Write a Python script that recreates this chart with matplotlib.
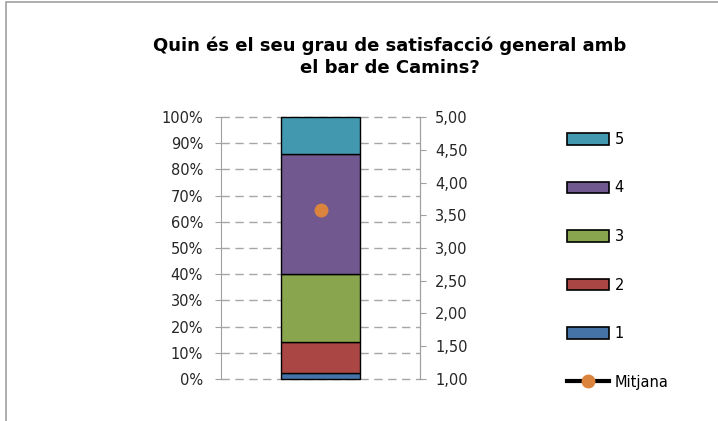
import matplotlib.pyplot as plt
from matplotlib.patches import Patch, Rectangle
from matplotlib.lines import Line2D
from matplotlib.ticker import FuncFormatter

# ==========================================
# Dades
# ==========================================
TITLE = 'Quin és el seu grau de satisfacció general amb\nel bar de Camins?'
levels = ['1', '2', '3', '4', '5']
pct = [2.35, 11.76, 25.88, 45.88, 14.13]        # % de respostes per nivell
colors = ['#4572A7', '#AA4643', '#89A54E', '#71588F', '#4198AF']
mitjana = 3.58
mean_label = 'Mitjana'
mean_color = '#DB843D'

left_ticks = list(range(0, 101, 10))
right_ticks = [1.0, 1.5, 2.0, 2.5, 3.0, 3.5, 4.0, 4.5, 5.0]

# ==========================================
# Figura
# ==========================================
fig = plt.figure(figsize=(7.18, 4.21), dpi=100)
fig.patches.append(Rectangle((0.009, -0.1), 1.2, 1.095, transform=fig.transFigure,
                             fill=False, edgecolor='#a0a0a0', lw=1.2))

ax = fig.add_axes([0.308, 0.100, 0.277, 0.622])
ax.set_axisbelow(True)
bottom = 0
for lv, v, c in zip(levels, pct, colors):
    ax.bar(0.5, v, width=0.4, bottom=bottom, color=c, edgecolor='black', lw=1,
           zorder=3, clip_on=False)
    bottom += v

ax.set_xlim(0, 1)
ax.set_ylim(0, 100)
ax.set_xticks([])
ax.set_yticks(left_ticks)
ax.yaxis.set_major_formatter(FuncFormatter(lambda v, _: f'{v:.0f}%'))
ax.grid(axis='y', color='#a6a6a6', linestyle=(0, (6, 4)), lw=1)
for gl in ax.get_ygridlines():
    gl.set_clip_on(False)
for s in ['top', 'bottom']:
    ax.spines[s].set_visible(False)
ax.spines['left'].set_color('#a0a0a0')
ax.spines['right'].set_color('#a0a0a0')
ax.tick_params(axis='y', colors='#a0a0a0', labelcolor='#262626', length=4,
               labelsize=10.5, pad=9)

ax2 = ax.twinx()
ax2.set_ylim(1, 5)
ax2.set_yticks(right_ticks)
ax2.yaxis.set_major_formatter(FuncFormatter(lambda v, _: f'{v:.2f}'.replace('.', ',')))
ax2.tick_params(axis='y', colors='#a0a0a0', labelcolor='#262626', length=4,
                labelsize=10.5, pad=7)
for s in ['top', 'bottom', 'left']:
    ax2.spines[s].set_visible(False)
ax2.spines['right'].set_color('#a0a0a0')
ax2.plot([0.5], [mitjana], 'o', color=mean_color, ms=9, zorder=5)

fig.text(0.543, 0.865, TITLE, ha='center', va='center', fontsize=13,
         fontweight='bold', linespacing=1.3, color='black')

# ── llegenda: 5 a dalt, 1 a baix, després la mitjana ──
handles = [Patch(facecolor=c, edgecolor='black', lw=1.2) for c in colors][::-1]
labels = levels[::-1]
handles.append(Line2D([0], [0], color='black', lw=3, marker='o', ms=9,
                      markerfacecolor=mean_color, markeredgecolor=mean_color))
labels.append(mean_label)
fig.legend(handles, labels, loc='upper left', bbox_to_anchor=(0.780, 0.704),
           frameon=False, fontsize=10.5, handlelength=2.85, handleheight=0.85,
           labelspacing=2.3, handletextpad=0.4, borderpad=0)

fig.savefig('out.png', dpi=100, facecolor='white')
